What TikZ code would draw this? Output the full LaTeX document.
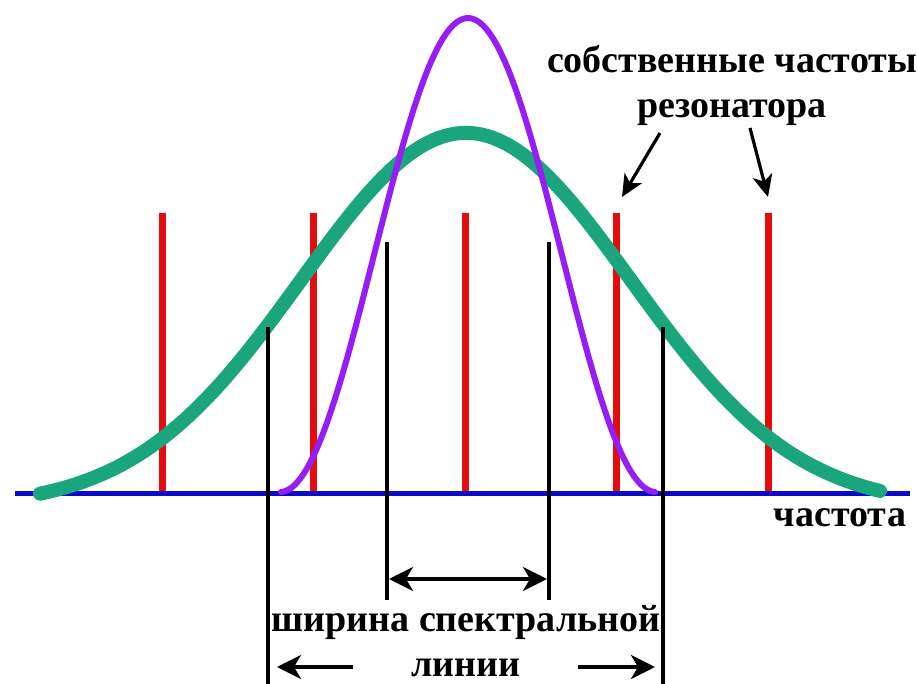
\documentclass[tikz,border=0pt]{standalone}
\usepackage{fontspec}
\setmainfont{Liberation Serif}
\usetikzlibrary{arrows.meta,calc}
\definecolor{lgreen}{RGB}{27,165,125}
\definecolor{lviolet}{RGB}{150,30,245}
\definecolor{lred}{RGB}{228,12,12}
\definecolor{lblue}{RGB}{10,10,200}
\tikzset{
  mode/.style     = {lred, line width=3.5pt},
  axisline/.style = {lblue, line width=2.5pt},
  gain/.style     = {lgreen, line width=7pt, line cap=round},
  linecurve/.style= {lviolet, line width=3pt, line cap=round},
  marker/.style   = {black, line width=2pt},
  dimarr/.style   = {{Stealth[length=12pt,width=12pt,inset=3.5pt]}-{Stealth[length=12pt,width=12pt,inset=3.5pt]}, line width=1.8pt},
  onearr/.style   = {-{Stealth[length=12pt,width=12pt,inset=3.5pt]}, line width=1.8pt},
  ptr/.style      = {-{Stealth[length=11pt,width=10pt,inset=3pt]}, line width=1.6pt},
  lbl/.style      = {font=\fontsize{19}{21}\selectfont\bfseries, inner sep=0pt, anchor=base},
}

\begin{document}
\begin{tikzpicture}[x=0.5pt,y=-0.5pt]
\useasboundingbox (0,0) rectangle (918,684);
% ---- resonator modes ----
\foreach \i/\x in {1/162,2/313.5,3/465,4/616.5,5/768} {
  \coordinate (m\i) at (\x,213);
  \coordinate (b\i) at (\x,494);
  \draw[mode] (m\i) -- (b\i);
}
% ---- frequency axis ----
\coordinate (ax0) at (15,494);
\coordinate (ax1) at (910,494);
\draw[axisline] (ax0) -- (ax1);
% ---- gain contour (gaussian) ----
\draw[gain] plot[domain=40:880, samples=140, smooth]
  (\x, {492-374*(exp(-(0.004286*(\x-466))*(0.004286*(\x-466)))-0.04)});
% ---- spectral line ----
\draw[linecurve] plot[domain=281:655, samples=120, smooth]
  (\x, {492-474*cos(0.47872*(\x-468))*cos(0.47872*(\x-468))});
% ---- width markers ----
\coordinate (o1) at (268,327);  \coordinate (o1b) at (268,684);
\coordinate (o2) at (663,327);  \coordinate (o2b) at (663,684);
\coordinate (i1) at (387,242);  \coordinate (i1b) at (387,600);
\coordinate (i2) at (549,242);  \coordinate (i2b) at (549,600);
\draw[marker] (o1) -- (o1b);
\draw[marker] (o2) -- (o2b);
\draw[marker] (i1) -- (i1b);
\draw[marker] (i2) -- (i2b);
\coordinate (w1) at (389,579);  \coordinate (w2) at (547,579);
\draw[dimarr] (w1) -- (w2);
\coordinate (l0) at (353,667);  \coordinate (l1) at (277,667);
\coordinate (r0) at (578,667);  \coordinate (r1) at (655,667);
\draw[onearr] (l0) -- (l1);
\draw[onearr] (r0) -- (r1);
% ---- labels ----
\node[lbl] (own) at (732,73) {собственные частоты};
\node[lbl] (res) at (732,118) {резонатора};
\node[lbl] (freq) at (840,527) {частота};
\node[lbl] (wid) at (466,632) {ширина спектральной};
\node[lbl] (lin) at (466,677) {линии};
\coordinate (p1) at (660,133);  \coordinate (t1) at (622,197);
\coordinate (p2) at (750,128);  \coordinate (t2) at (768,197);
\draw[ptr] (p1) -- (t1);
\draw[ptr] (p2) -- (t2);
\end{tikzpicture}
\end{document}
